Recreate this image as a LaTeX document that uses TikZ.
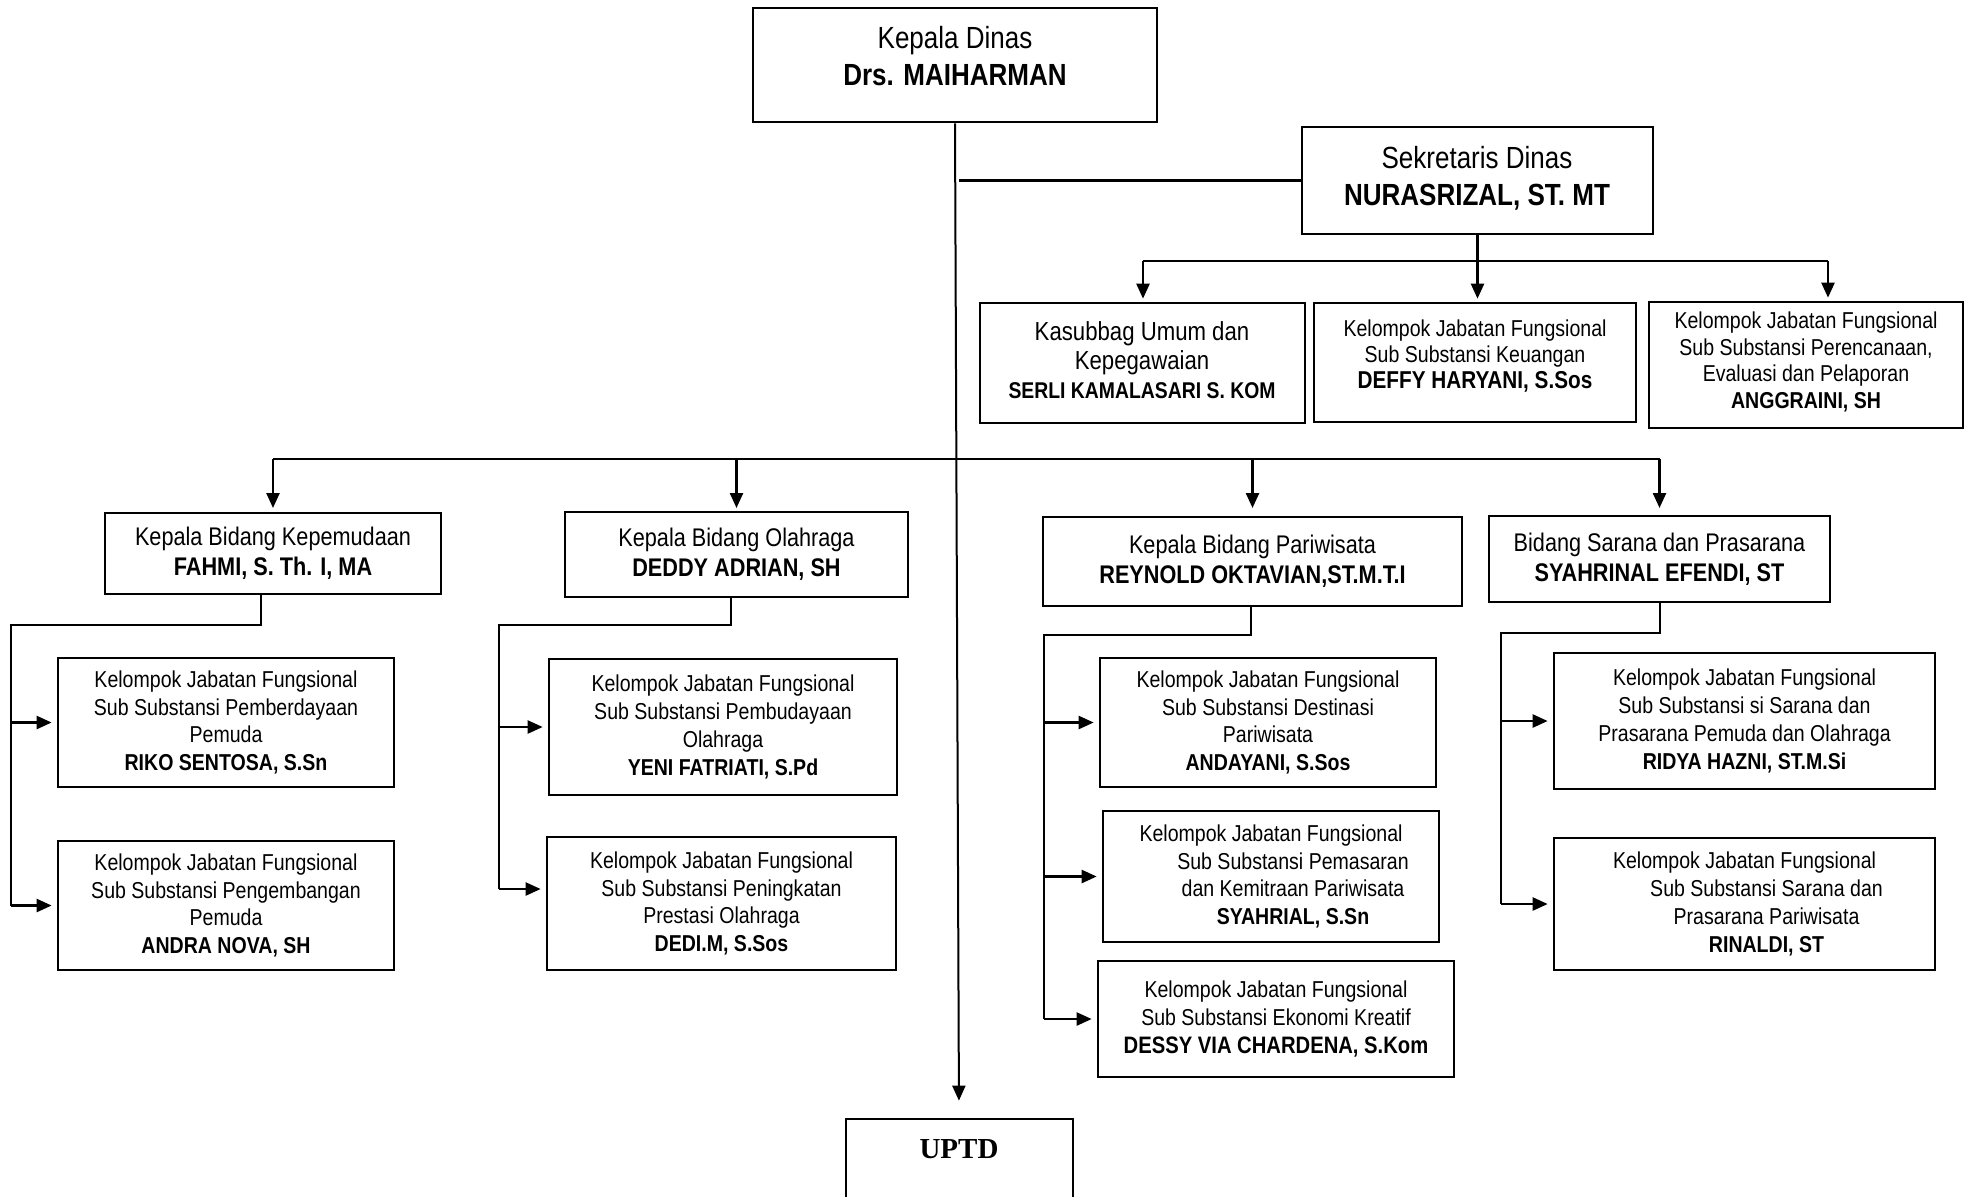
\documentclass[tikz,border=0pt]{standalone}
\usepackage{fontspec}
\setmainfont[FakeStretch=0.85]{Liberation Sans}
\newfontfamily\uptdfont{Liberation Serif}
\usetikzlibrary{arrows.meta,fit}
\tikzset{
  bx/.style={draw, line width=1.35pt, inner sep=0pt},
  ln/.style={line width=1.2pt},
  arr/.style={ln, -{Triangle[length=7.5pt,width=6.5pt]}},
  big/.style={align=center, inner sep=0pt, font=\fontsize{15.3}{18.5}\selectfont},
  mid/.style={align=center, inner sep=0pt, font=\fontsize{12.75}{15}\selectfont},
  sml/.style={align=center, inner sep=0pt, font=\fontsize{11.5}{13.9}\selectfont},
  smk/.style={align=center, inner sep=0pt, font=\fontsize{11.5}{13.2}\selectfont},
}
\begin{document}
\begin{tikzpicture}[x=0.5pt,y=-0.5pt]
\useasboundingbox (0,0) rectangle (1970,1196);
\clip (0,0) rectangle (1970,1196);
% ---------- boxes ----------
\node[bx, fit={(753,8) (1157,122)}] (kd) {};
\node[bx, fit={(1302,127) (1653,234)}] (sek) {};
\node[bx, fit={(980,303) (1305,423)}] (kas) {};
\node[bx, fit={(1314,303) (1636,422)}] (fj2) {};
\node[bx, fit={(1649,302) (1963,428)}] (fj3) {};
\node[bx, fit={(105,513) (441,594)}] (kep) {};
\node[bx, fit={(565,512) (908,597)}] (ola) {};
\node[bx, fit={(1043,517) (1462,606)}] (par) {};
\node[bx, fit={(1489,516) (1830,602)}] (sar) {};
\node[bx, fit={(58,658) (394,787)}] (kp1) {};
\node[bx, fit={(58,841) (394,970)}] (kp2) {};
\node[bx, fit={(549,659) (897,795)}] (ob1) {};
\node[bx, fit={(547,837) (896,970)}] (ob2) {};
\node[bx, fit={(1100,658) (1436,787)}] (pb1) {};
\node[bx, fit={(1103,811) (1439,942)}] (pb2) {};
\node[bx, fit={(1098,961) (1454,1077)}] (pb3) {};
\node[bx, fit={(1554,653) (1935,789)}] (sb1) {};
\node[bx, fit={(1554,838) (1935,970)}] (sb2) {};
\node[bx, fit={(846,1119) (1073,1240)}] (uptd) {};
% ---------- texts ----------
\node[big] (kdt) at (955,56) {Kepala Dinas\\\textbf{Drs. MAIHARMAN}};
\node[big] (sekt) at (1477,178) {Sekretaris Dinas\\\textbf{NURASRIZAL, ST. MT}};
\node[align=center, inner sep=0pt, font=\fontsize{13.05}{14.6}\selectfont] (kast) at (1142,360)
  {Kasubbag Umum dan\\Kepegawaian\\{\fontsize{11.4}{14.6}\selectfont\textbf{SERLI KAMALASARI S. KOM}}};
\node[smk] (fj2t) at (1475,356) {Kelompok Jabatan Fungsional\\Sub Substansi Keuangan\\{\fontsize{12.2}{13.2}\selectfont\textbf{DEFFY HARYANI, S.Sos}}};
\node[smk] (fj3t) at (1806,362) {Kelompok Jabatan Fungsional\\Sub Substansi Perencanaan,\\Evaluasi dan Pelaporan\\\textbf{ANGGRAINI, SH}};
\node[mid] (kept) at (kep) {Kepala Bidang Kepemudaan\\\textbf{FAHMI, S. Th. I, MA}};
\node[mid] (olat) at (ola) {Kepala Bidang Olahraga\\\textbf{DEDDY ADRIAN, SH}};
\node[mid] (part) at (par) {Kepala Bidang Pariwisata\\\textbf{REYNOLD OKTAVIAN,ST.M.T.I}};
\node[mid] (sart) at (sar) {Bidang Sarana dan Prasarana\\\textbf{SYAHRINAL EFENDI, ST}};
\node[sml] (kp1t) at (kp1) {Kelompok Jabatan Fungsional\\Sub Substansi Pemberdayaan\\Pemuda\\\textbf{RIKO SENTOSA, S.Sn}};
\node[sml] (kp2t) at (kp2) {Kelompok Jabatan Fungsional\\Sub Substansi Pengembangan\\Pemuda\\\textbf{ANDRA NOVA, SH}};
\node[sml] (ob1t) at (ob1) {Kelompok Jabatan Fungsional\\Sub Substansi Pembudayaan\\Olahraga\\\textbf{YENI FATRIATI, S.Pd}};
\node[sml] (ob2t) at (ob2) {Kelompok Jabatan Fungsional\\Sub Substansi Peningkatan\\Prestasi Olahraga\\\textbf{DEDI.M, S.Sos}};
\node[sml] (pb1t) at (pb1) {Kelompok Jabatan Fungsional\\Sub Substansi Destinasi\\Pariwisata\\\textbf{ANDAYANI, S.Sos}};
\node[sml] (pb2t) at ([xshift=11pt]pb2.center) {\hspace*{-22pt}Kelompok Jabatan Fungsional\\Sub Substansi Pemasaran\\dan Kemitraan Pariwisata\\\textbf{SYAHRIAL, S.Sn}};
\node[sml] (pb3t) at (pb3) {Kelompok Jabatan Fungsional\\Sub Substansi Ekonomi Kreatif\\{\fontsize{11.9}{13.9}\selectfont\textbf{DESSY VIA CHARDENA, S.Kom}}};
\node[sml] (sb1t) at (sb1) {Kelompok Jabatan Fungsional\\Sub Substansi si Sarana dan\\Prasarana Pemuda dan Olahraga\\\textbf{RIDYA HAZNI, ST.M.Si}};
\node[sml] (sb2t) at ([xshift=11pt]sb2.center) {\hspace*{-22pt}Kelompok Jabatan Fungsional\\Sub Substansi Sarana dan\\Prasarana Pariwisata\\\textbf{RINALDI, ST}};
\node[inner sep=0pt, font=\uptdfont\fontsize{14.5}{16}\selectfont\bfseries] (uptdt) at (959,1149) {UPTD};
% ---------- coordinates ----------
\coordinate (mx) at (959,0);
\coordinate (bus) at (0,459);
\coordinate (tipb) at (0,508);
\coordinate (a1) at (1143,261);
\coordinate (a3) at (1828,261);
\coordinate (kv) at (261,625);
\coordinate (kl) at (11,625);
\coordinate (ov) at (731,625);
\coordinate (ol) at (499,625);
\coordinate (o2) at (499,889);
\coordinate (pv) at (1251,635);
\coordinate (pl) at (1044,635);
\coordinate (sv) at (1660,633);
\coordinate (sl) at (1501,633);
% ---------- connectors ----------
\draw[arr, line width=1pt, shorten >=8.5pt] (kd.south) -- (mx |- uptd.north);
\draw[ln] (mx |- sek.west) -- (sek.west);
% sekretaris branch
\draw[ln] (a1) -- (a3);
\draw[arr, shorten >=1.5pt] (sek.south) -- (sek.south |- kas.north);
\draw[arr, shorten >=1.5pt] (a1) -- (a1 |- kas.north);
\draw[arr, shorten >=1.5pt] (a3) -- (a3 |- fj3.north);
% bidang bus
\draw[line width=1.4pt] (kep.north |- bus) -- (sar.north |- bus);
\draw[arr] (kep.north |- bus) -- (kep.north |- tipb);
\draw[arr] (ola.north |- bus) -- (ola.north |- tipb);
\draw[arr] (par.north |- bus) -- (par.north |- tipb);
\draw[arr] (sar.north |- bus) -- (sar.north |- tipb);
% kepemudaan
\draw[ln] (kv |- kep.south) -- (kv) -- (kl) -- (kl |- kp2.west);
\draw[arr, shorten >=2.5pt] (kl |- kp1.west) -- (kp1.west);
\draw[arr, shorten >=2.5pt] (kl |- kp2.west) -- (kp2.west);
% olahraga
\draw[ln] (ov |- ola.south) -- (ov) -- (ol) -- (o2);
\draw[arr, shorten >=2.5pt] (ol |- ob1.west) -- (ob1.west);
\draw[arr, shorten >=2.5pt] (o2) -- (o2 -| ob2.west);
% pariwisata
\draw[ln] (pv |- par.south) -- (pv) -- (pl) -- (pl |- pb3.west);
\draw[arr, shorten >=2.5pt] (pl |- pb1.west) -- (pb1.west);
\draw[arr, shorten >=2.5pt] (pl |- pb2.west) -- (pb2.west);
\draw[arr, shorten >=2.5pt] (pl |- pb3.west) -- (pb3.west);
% sarana
\draw[ln] (sv |- sar.south) -- (sv) -- (sl) -- (sl |- sb2.west);
\draw[arr, shorten >=2.5pt] (sl |- sb1.west) -- (sb1.west);
\draw[arr, shorten >=2.5pt] (sl |- sb2.west) -- (sb2.west);
\end{tikzpicture}
\end{document}
